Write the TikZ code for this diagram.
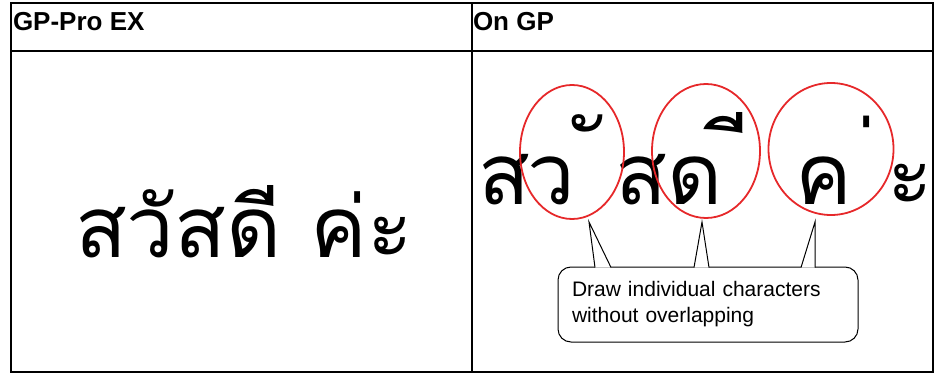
\documentclass[tikz,border=0pt]{standalone}
\usepackage{fontspec}
\setmainfont{Liberation Sans}
\newfontfamily\thaifont[Script=Thai]{Loma}
\usetikzlibrary{shapes.geometric}

\begin{document}
\begin{tikzpicture}[x=1pt,y=-1pt,every node/.style={inner sep=0pt, outer sep=0pt},
  every path/.style={line width=1.2pt}]
\tikzset{hdr/.style={anchor=base west, font=\bfseries\fontsize{26}{30}\selectfont},
  thai/.style={anchor=base west, font=\thaifont\fontsize{85}{100}\selectfont},
  tonemark/.style={thai, anchor=base east},
  ring/.style={ellipse, draw=ringred, line width=1.8pt},
  callout/.style={draw, line width=1pt, rounded corners=13pt, align=left,
    text width=272pt, minimum width=300pt, minimum height=75pt, inner xsep=14pt,
    font=\fontsize{21}{26}\selectfont}}
\definecolor{ringred}{RGB}{230,40,42}
\newcommand{\markbase}{{\fontsize{20}{20}\selectfont\symbol{"A0}}}
\useasboundingbox (0,0) rectangle (937,374);

\coordinate (TL) at (11,3);
\coordinate (TR) at (933,3);
\coordinate (BL) at (11,372);
\coordinate (BR) at (933,372);
\coordinate (HL) at (11,51);
\coordinate (HR) at (933,51);
\coordinate (MT) at (472,3);
\coordinate (MB) at (472,372);

\draw (TL) -- (TR) -- (BR) -- (BL) -- cycle; % frame
\draw (HL) -- (HR); % header
\draw (MT) -- (MB); % columns

\node[hdr] (hleft) at (13,31) {GP-Pro EX};
\node[hdr] (hright) at (473,31) {On GP};

% composed text
\node[thai] (word) at (75,258) {สวัสดี ค่ะ};

% separate glyphs
\foreach \x/\c/\n in {478/ส/a, 527/ว/b, 615/ส/d, 667/ด/e, 795/ค/g, 887/ะ/i}
  \node[thai] (ch\n) at (\x,205) {\c};
\foreach \x/\y/\c/\n in {603/183/ั/c, 750/185/ี/f, 877/204/่/h}
  \node[tonemark] (ch\n) at (\x,\y) {\markbase\c};

\node[ring, minimum width=104pt, minimum height=134pt] (ringA) at (572,152) {};
\node[ring, minimum width=108pt, minimum height=134pt] (ringB) at (706,151) {};
\node[ring, minimum width=125pt, minimum height=132pt] (ringC) at (831,149) {};

\node[callout] (note) at (708,304.5) {Draw individual characters\\without overlapping};

\coordinate (tipA) at (589,222);
\coordinate (tipB) at (702,222);
\coordinate (tipC) at (815,222);

\foreach \t/\l/\r in {A/595/611, B/694/709, C/801/815}
  \filldraw[fill=white, line width=1pt] (\l,267.5) -- (tip\t) -- (\r,267.5);
\end{tikzpicture}
\end{document}
